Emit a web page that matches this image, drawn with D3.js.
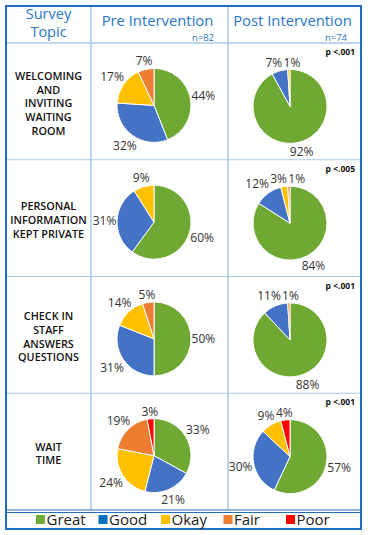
<!DOCTYPE html>
<html>
<head>
<meta charset="utf-8">
<script src="https://cdn.jsdelivr.net/npm/d3@7"></script>
<style>
  body { margin: 0; background: #fff; }
  svg text { font-family: "Open Sans", "Noto Sans", sans-serif; }
</style>
</head>
<body>
<div id="chart"></div>
<script>
// chart data
const topics = [
    ["WELCOMING", "AND", "INVITING", "WAITING", "ROOM"],
    ["PERSONAL", "INFORMATION", "KEPT PRIVATE"],
    ["CHECK IN", "STAFF", "ANSWERS", "QUESTIONS"],
    ["WAIT", "TIME"]
];
const ratings = ["Great", "Good", "Okay", "Fair", "Poor"];
const preValues = [
    [44, 32, 17, 7, 0],
    [60, 31, 9, 0, 0],
    [50, 31, 14, 5, 0],
    [33, 21, 24, 19, 3]
];
const postValues = [
    [92, 7, 1, 0, 0],
    [84, 12, 3, 1, 0],
    [88, 11, 0, 1, 0],
    [57, 30, 9, 0, 4]
];
const pValues = ["p <.001", "p <.005", "p <.001", "p <.001"];
const columnTitles = ["Pre Intervention", "Post Intervention"];
const sampleSizes = ["n=82", "n=74"];

const sliceColors = ["#6fa833", "#4472c4", "#ffc000", "#ed7d31", "#ff0000"];
const legendColors = ["#6fa833", "#0070c0", "#ffc000", "#ed7d31", "#ff0000"];
const headBlue = "#2777c6";
const frameBlue = "#1f6fc0";
const gridBlue = "#a9c8e8";

const W = 368, H = 535;
const box = {left: 6, right: 361, top: 6, bottom: 529};
const headerBottom = 43, bodyBottom = 510;
const colEdges = [box.left, 91, 228, box.right];

const svg = d3.select("#chart").append("svg")
    .attr("width", W)
    .attr("height", H);

// row scale
const y = d3.scaleBand()
    .domain(d3.range(topics.length))
    .range([headerBottom, bodyBottom]);

const pieX = [154, 290];
const radius = 37;

// grid lines
let grid = svg.append("g");
y.domain().slice(1).forEach(i => {
    grid.append("line")
        .attr("x1", box.left).attr("x2", box.right)
        .attr("y1", y(i)).attr("y2", y(i))
        .attr("stroke", gridBlue).attr("stroke-width", 1);
});
grid.append("line")
    .attr("x1", box.left).attr("x2", box.right)
    .attr("y1", headerBottom).attr("y2", headerBottom)
    .attr("stroke", gridBlue).attr("stroke-width", 1.5);
[1, 2].forEach(c => {
    grid.append("line")
        .attr("x1", colEdges[c]).attr("x2", colEdges[c])
        .attr("y1", box.top).attr("y2", bodyBottom)
        .attr("stroke", gridBlue).attr("stroke-width", 1.5);
});
// double line above legend
[bodyBottom, bodyBottom + 2.5].forEach(yy => {
    grid.append("line")
        .attr("x1", box.left).attr("x2", box.right)
        .attr("y1", yy).attr("y2", yy)
        .attr("stroke", frameBlue).attr("stroke-width", 1.2);
});
// outer frame
svg.append("rect")
    .attr("x", box.left).attr("y", box.top)
    .attr("width", box.right - box.left)
    .attr("height", box.bottom - box.top)
    .attr("fill", "none")
    .attr("stroke", frameBlue)
    .attr("stroke-width", 2);

// header
const topicX = (colEdges[0] + colEdges[1]) / 2;
svg.append("text")
    .attr("x", topicX).attr("y", 19)
    .attr("text-anchor", "middle")
    .attr("fill", headBlue)
    .style("font-size", "14.5px")
    .text("Survey");
svg.append("text")
    .attr("x", topicX).attr("y", 37)
    .attr("text-anchor", "middle")
    .attr("fill", headBlue)
    .style("font-size", "14.5px")
    .text("Topic");

columnTitles.forEach((t, i) => {
    let cx = (colEdges[i + 1] + colEdges[i + 2]) / 2;
    svg.append("text")
        .attr("x", cx - 2).attr("y", 25.5)
        .attr("text-anchor", "middle")
        .attr("fill", headBlue)
        .style("font-size", "14.8px")
        .text(t);
    svg.append("text")
        .attr("x", colEdges[i + 2] - 14).attr("y", 40.5)
        .attr("text-anchor", "end")
        .attr("fill", headBlue)
        .style("font-size", "9.5px")
        .text(sampleSizes[i]);
});

// topic labels
topics.forEach((lines, i) => {
    let cy = y(i) + y.bandwidth() / 2 + 2;
    let lh = 13.7;
    let t = svg.append("text")
        .attr("text-anchor", "middle")
        .attr("fill", "#111")
        .style("font-size", "10.8px")
        .style("font-weight", 600);
    lines.forEach((ln, j) => {
        t.append("tspan")
            .attr("x", topicX)
            .attr("y", cy + (j - (lines.length - 1) / 2) * lh + 4)
            .text(ln);
    });
});

// p values
pValues.forEach((p, i) => {
    svg.append("text")
        .attr("x", box.right - 6)
        .attr("y", y(i) + 12)
        .attr("text-anchor", "end")
        .attr("fill", "#111")
        .style("font-size", "8.5px")
        .style("font-weight", 700)
        .text(p);
});

// pies
const pie = d3.pie().sort(null).value(d => d);
const arc = d3.arc().innerRadius(0).outerRadius(radius);

function drawPie(values, cx, cy) {
    let g = svg.append("g").attr("transform", "translate(" + cx + "," + cy + ")");
    let arcs = pie(values);
    g.selectAll("path")
        .data(arcs.filter(d => d.value > 0))
        .enter().append("path")
        .attr("d", arc)
        .attr("fill", d => sliceColors[d.index])
        .attr("stroke", "#fff")
        .attr("stroke-width", 1);

    // label positions outside the pie
    let labels = arcs.filter(d => d.value > 0).map(d => {
        let a = (d.startAngle + d.endAngle) / 2;
        let txt = d.value + "%";
        let w = (txt.length - 1) * 6.6 + 9.5, h = 12;
        let s = Math.sin(a), c = -Math.cos(a);
        let dist = radius + 1 + Math.abs(s) * w / 2 + Math.abs(c) * h / 2;
        return {txt: txt, x: s * dist, y: c * dist, w: w, h: h};
    });
    // push overlapping labels apart
    for (let k = 0; k < 30; k++) {
        for (let i = 0; i < labels.length; i++) {
            for (let j = i + 1; j < labels.length; j++) {
                let a = labels[i], b = labels[j];
                let ox = (a.w + b.w) / 2 + 2 - Math.abs(a.x - b.x);
                let oy = (a.h + b.h) / 2 - Math.abs(a.y - b.y);
                if (ox > 0 && oy > 0) {
                    let dir = a.x < b.x ? -1 : 1;
                    a.x += dir * ox / 2;
                    b.x -= dir * ox / 2;
                }
            }
        }
    }
    g.selectAll("text")
        .data(labels)
        .enter().append("text")
        .attr("x", d => d.x)
        .attr("y", d => d.y + 4.5)
        .attr("text-anchor", "middle")
        .attr("fill", "#333")
        .style("font-size", "12px")
        .text(d => d.txt);
}

topics.forEach((t, i) => {
    let cy = y(i) + y.bandwidth() / 2 + 4;
    drawPie(preValues[i], pieX[0], cy);
    drawPie(postValues[i], pieX[1], cy + 1);
});

// legend
const legendX = d3.scalePoint()
    .domain(ratings)
    .range([36, 286]);
const legendY = 520;
let lg = svg.append("g");
ratings.forEach((r, i) => {
    lg.append("rect")
        .attr("x", legendX(r))
        .attr("y", legendY - 5)
        .attr("width", 9).attr("height", 9)
        .attr("fill", legendColors[i]);
    lg.append("text")
        .attr("x", legendX(r) + 10.5)
        .attr("y", legendY + 5)
        .attr("fill", "#222")
        .style("font-size", "15px")
        .text(r);
});
</script>
</body>
</html>
